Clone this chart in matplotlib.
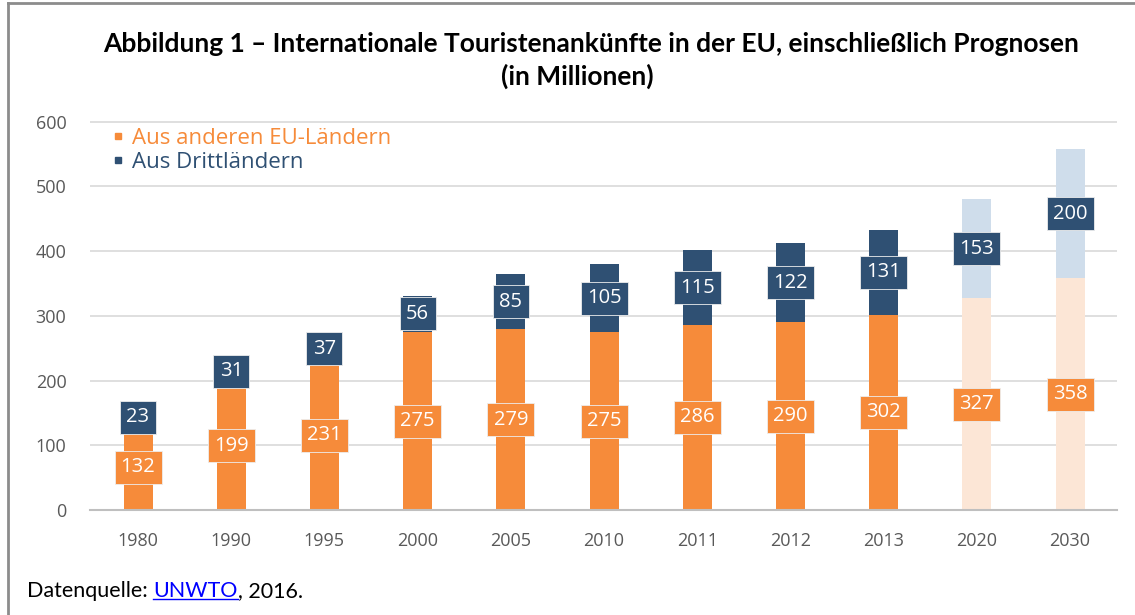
import matplotlib
matplotlib.use("Agg")
import matplotlib.pyplot as plt
from matplotlib.lines import Line2D

# ---- data ----
years = ["1980", "1990", "1995", "2000", "2005", "2010", "2011", "2012", "2013", "2020", "2030"]
eu_values = [132, 199, 231, 275, 279, 275, 286, 290, 302, 327, 358]
third_values = [23, 31, 37, 56, 85, 105, 115, 122, 131, 153, 200]
is_forecast = [False] * 9 + [True, True]
legend_labels = ["Aus anderen EU-Ländern", "Aus Drittländern"]
yticks = [0, 100, 200, 300, 400, 500, 600]

ORANGE = "#F68B3A"
NAVY = "#2F5073"
LIGHT_ORANGE = "#FCE6D6"
LIGHT_BLUE = "#CFDDEB"
GRID = "#D9D9D9"
TICK = "#595959"

W, H = 1135, 615
fig = plt.figure(figsize=(W / 100, H / 100), dpi=100)

# axes placement in pixels
ax_left, ax_right = 90, 1117
y0_px, y600_px = 510, 121.7
ymax = 605
top_px = y0_px - (y0_px - y600_px) * ymax / 600
ax = fig.add_axes([ax_left / W, 1 - y0_px / H, (ax_right - ax_left) / W, (y0_px - top_px) / H])

# x scale: center of first bar at 138 px, last at 1070 px
step = (1070 - 138) / 10
xl = -(138 - ax_left) / step
xr = 10 + (ax_right - 1070) / step
ax.set_xlim(xl, xr)
ax.set_ylim(0, ymax)

px_per_unit_y = (y0_px - y600_px) / 600
bar_w = 29 / step
box_h = 33 / px_per_unit_y

xs = list(range(len(years)))
eu_colors = [LIGHT_ORANGE if f else ORANGE for f in is_forecast]
tc_colors = [LIGHT_BLUE if f else NAVY for f in is_forecast]

ax.bar(xs, eu_values, width=bar_w, color=eu_colors, zorder=2)
ax.bar(xs, third_values, bottom=eu_values, width=bar_w, color=tc_colors, zorder=2)

# label boxes
def box_width(v):
    return (36 if len(str(v)) <= 2 else 47) / step

for x, e, t in zip(xs, eu_values, third_values):
    ce = e / 2
    ct = e + t / 2
    for c, v, col in ((ce, e, ORANGE), (ct, t, NAVY)):
        ax.bar(x, box_h, bottom=c - box_h / 2, width=box_width(v), color=col,
               edgecolor="#EDEDED", linewidth=0.6, zorder=3)
        ax.text(x, c, str(v), ha="center", va="center", color="white",
                fontsize=14.5, family="Open Sans", zorder=4)

ax.set_yticks(yticks)
ax.set_yticklabels([str(v) for v in yticks])
ax.set_xticks(xs)
ax.set_xticklabels(years)
ax.tick_params(axis="both", length=0, colors=TICK, labelsize=13)
ax.tick_params(axis="y", pad=17)
ax.tick_params(axis="x", pad=16)
for lab in ax.get_xticklabels() + ax.get_yticklabels():
    lab.set_family("Open Sans")
ax.grid(axis="y", color=GRID, linewidth=1.2, zorder=0)
ax.set_axisbelow(True)
for s in ["top", "right", "left"]:
    ax.spines[s].set_visible(False)
ax.spines["bottom"].set_color("#BFBFBF")
ax.spines["bottom"].set_linewidth(1.5)
ax.spines["bottom"].set_zorder(5)

# legend
handles = [Line2D([], [], marker="s", linestyle="none", color=ORANGE, markersize=5),
           Line2D([], [], marker="s", linestyle="none", color=NAVY, markersize=5)]
leg = ax.legend(handles, legend_labels, loc="upper left",
                bbox_to_anchor=(115 / W, 1 - 128 / H), bbox_transform=fig.transFigure,
                frameon=False, handlelength=0.3, handletextpad=0.45, labelspacing=0.12,
                prop={"family": "Open Sans", "size": 16}, labelcolor=[ORANGE, NAVY],
                borderpad=0, borderaxespad=0)

# title
fig.text(591 / W, 1 - 44 / H, "Abbildung 1 – Internationale Touristenankünfte in der EU, einschließlich Prognosen",
         ha="center", va="center", fontsize=19, fontweight="bold", family="Lato", color="black")
fig.text(577 / W, 1 - 76 / H, "(in Millionen)",
         ha="center", va="center", fontsize=19, fontweight="bold", family="Lato", color="black")

# footer
fig.canvas.draw()
r = fig.canvas.get_renderer()
fy = 1 - 591 / H
fs = 15.5
t1 = fig.text(27 / W, fy, "Datenquelle: ", ha="left", va="center", fontsize=fs, family="Lato", color="black")
bb1 = t1.get_window_extent(r)
t2 = fig.text(bb1.x1 / W, fy, "UNWTO", ha="left", va="center", fontsize=fs, family="Lato", color="#0000FF")
bb2 = t2.get_window_extent(r)
t3 = fig.text(bb2.x1 / W, fy, ", 2016.", ha="left", va="center", fontsize=fs, family="Lato", color="black")
uy = bb2.y0 + 2
fig.add_artist(Line2D([bb2.x0 / W, bb2.x1 / W], [uy / H, uy / H], color="#0000FF", linewidth=1.0))

# frame lines
fig.add_artist(Line2D([7.5 / W, 1], [1 - 2.5 / H, 1 - 2.5 / H], color="#8C8C8C", linewidth=2))
fig.add_artist(Line2D([7.5 / W, 7.5 / W], [0, 1 - 2.5 / H], color="#8C8C8C", linewidth=2))

fig.savefig("out.png", dpi=100, facecolor="white")
